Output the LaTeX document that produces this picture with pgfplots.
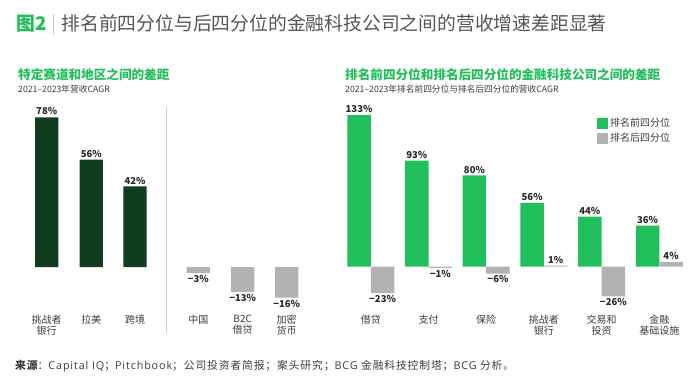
\documentclass[border=0pt]{standalone}
\usepackage{fontspec}
\setmainfont{Noto Sans CJK SC}
\newfontfamily\lat{Open Sans}
\usepackage{pgfplots}
\pgfplotsset{compat=1.18}
\definecolor{bcggreen}{RGB}{33,191,92}
\definecolor{darkgreen}{RGB}{15,61,30}
\definecolor{bargray}{RGB}{178,178,178}
\definecolor{textgray}{RGB}{60,60,60}
\definecolor{titlegray}{RGB}{85,85,85}
\definecolor{labelcol}{RGB}{40,40,40}
\definecolor{sepgray}{RGB}{205,205,205}
\begin{document}
\begin{tikzpicture}[x=1pt,y=1pt]
\path[use as bounding box] (0,0) rectangle (700,-386);
% title
\node[anchor=west, inner sep=0pt] at (16,-25) {\fontsize{18.8}{22}\selectfont{\color{bcggreen}\bfseries 图2}\hspace{5pt}{\color{sepgray}|}\hspace{5pt}{\color{titlegray}排名前四分位与后四分位的金融科技公司之间的营收增速差距显著}};
% subtitles
\node[anchor=west, inner sep=0pt, text=bcggreen] at (18,-74.7) {\fontsize{12.6}{14}\selectfont\bfseries 特定赛道和地区之间的差距};
\node[anchor=west, inner sep=0pt, text=textgray] at (18,-88.7) {\fontsize{8.7}{10}\selectfont 2021–2023年营收CAGR};
\node[anchor=west, inner sep=0pt, text=bcggreen] at (345,-74.7) {\fontsize{12.6}{14}\selectfont\bfseries 排名前四分位和排名后四分位的金融科技公司之间的差距};
\node[anchor=west, inner sep=0pt, text=textgray] at (345,-88.7) {\fontsize{8.7}{10}\selectfont 2021–2023年排名前四分位与排名后四分位的营收CAGR};
% source
\node[anchor=west, inner sep=0pt, text=textgray] at (15,-366) {\fontsize{10.8}{12}\selectfont\addfontfeature{LetterSpace=8}{\bfseries 来源}：{\lat\addfontfeature{LetterSpace=8}Capital IQ}；{\lat\addfontfeature{LetterSpace=8}Pitchbook}；公司投资者简报；案头研究；{\lat\addfontfeature{LetterSpace=8}BCG} 金融科技控制塔；{\lat\addfontfeature{LetterSpace=8}BCG} 分析。};
% separator
\draw[sepgray, line width=0.8pt] (166.7,-107) -- (166.7,-333);

\begin{axis}[
  at={(20pt,-312pt)}, anchor=south west,
  scale only axis, width=295pt, height=212pt,
  xmin=20, xmax=315, ymin=-23.44, ymax=87,
  hide y axis, axis x line*=bottom, axis line style={draw=none},
  xtick={46.7,91.3,135,198.3,242.7,286.7},
  xticklabels={{挑战者\\银行},拉美,跨境,中国,{B2C\\借贷},{加密\\货币}},
  xticklabel style={align=center, font=\fontsize{10}{10.5}\selectfont, text=textgray, inner sep=0pt, yshift=-3pt},
  major tick length=0pt,
  ybar, bar width=23.3pt, bar shift=0pt,
  point meta=explicit symbolic,
  nodes near coords,
  nodes near coords style={font=\fontsize{9.5}{10}\selectfont\bfseries, text=labelcol, inner sep=2pt},
  clip=false,
]
\addplot[fill=darkgreen, draw=none] coordinates {(46.7,78) [78\%] (91.3,56) [56\%] (135,42) [42\%]};
\addplot[fill=bargray, draw=none, every node near coord/.append style={anchor=north}] coordinates {(198.3,-3) [−3\%] (242.7,-13) [−13\%] (286.7,-16) [−16\%]};
\end{axis}

\begin{axis}[
  at={(340pt,-312pt)}, anchor=south west,
  scale only axis, width=355pt, height=212pt,
  xmin=340, xmax=695, ymin=-39.7, ymax=146.2,
  hide y axis, axis x line*=bottom, axis line style={draw=none},
  xtick={370.8,428.5,486.2,543.9,601.6,659.3},
  xticklabels={借贷,支付,保险,{挑战者\\银行},{交易和\\投资},{金融\\基础设施}},
  xticklabel style={align=center, font=\fontsize{10}{10.5}\selectfont, text=textgray, inner sep=0pt, yshift=-3pt},
  major tick length=0pt,
  ybar, bar width=23.5pt, bar shift=0pt,
  point meta=explicit symbolic,
  nodes near coords,
  nodes near coords style={font=\fontsize{9.5}{10}\selectfont\bfseries, text=labelcol, inner sep=2pt},
  clip=false,
  legend style={at={(0.7155,0.934)}, anchor=north west, draw=none, fill=none, font=\fontsize{10}{11}\selectfont, text=textgray, nodes={inner sep=2pt}, row sep=1pt},
  legend cell align=left,
]
\addplot[fill=bcggreen, draw=none, legend image code/.code={\fill[bcggreen] (0pt,-5.5pt) rectangle (11pt,5.5pt);}] coordinates {(359.05,133) [133\%] (416.75,93) [93\%] (474.45,80) [80\%] (532.15,56) [56\%] (589.85,44) [44\%] (647.55,36) [36\%]};
\addlegendentry{排名前四分位}
\addplot[fill=bargray, draw=none, every node near coord/.append style={anchor=north}, legend image code/.code={\fill[bargray] (0pt,-5.5pt) rectangle (11pt,5.5pt);}] coordinates {(382.55,-23) [−23\%] (440.25,-1) [−1\%] (497.95,-6) [−6\%] (613.35,-26) [−26\%]};
\addlegendentry{排名后四分位}
\addplot[fill=bargray, draw=none, forget plot] coordinates {(555.65,1) [1\%] (671.05,4) [4\%]};
\end{axis}
\end{tikzpicture}
\end{document}
